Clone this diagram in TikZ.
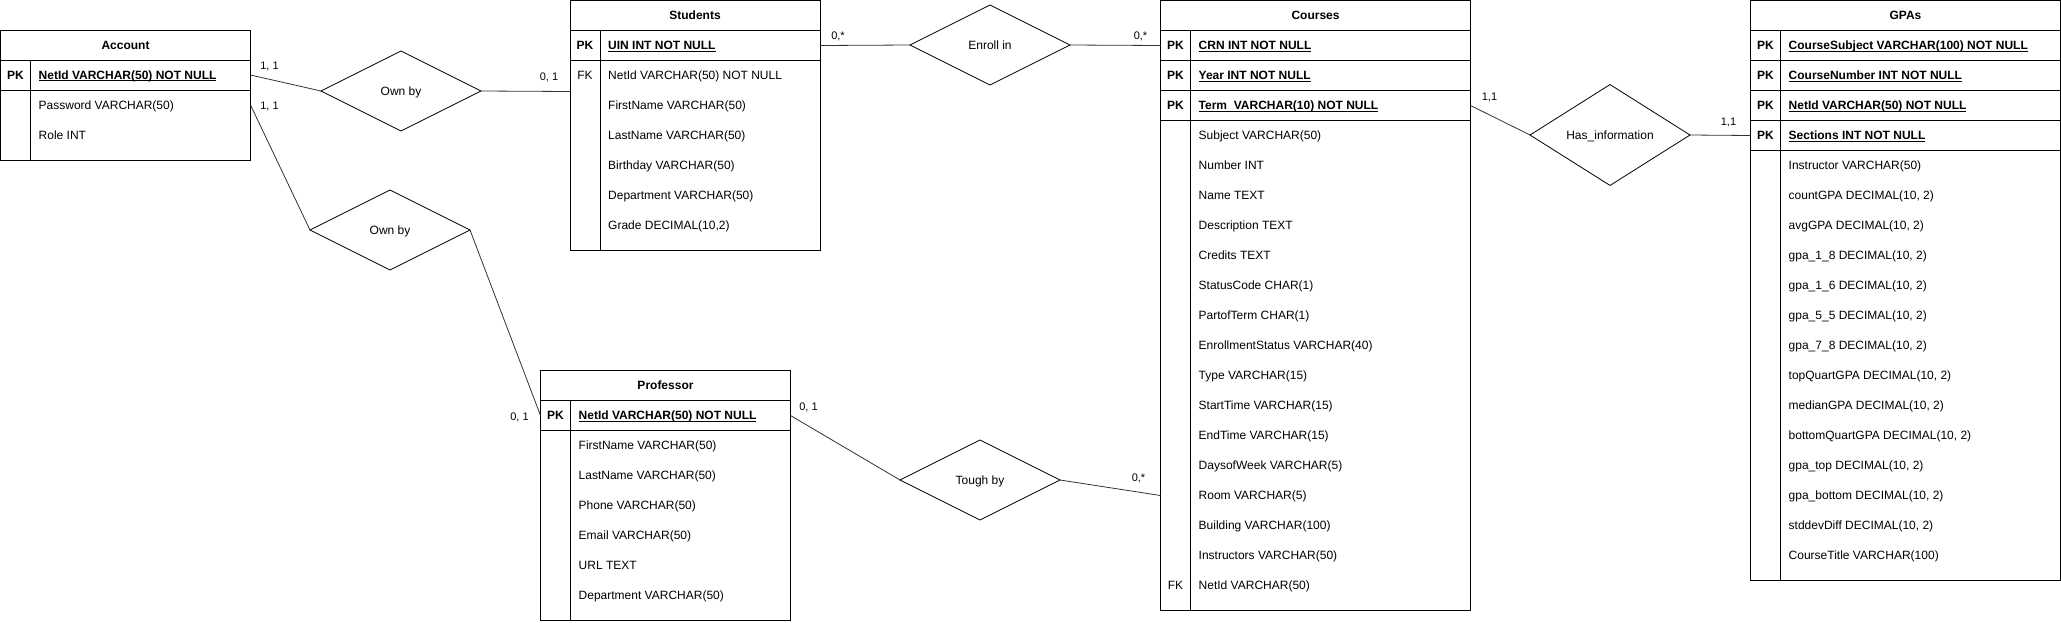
\documentclass[tikz,border=0pt]{standalone}
\usepackage{fontspec}
\setmainfont{Liberation Sans}
\usetikzlibrary{positioning, shapes.geometric}
\newsavebox{\pkbox}
\newcommand{\pkf}[1]{\textbf{\sbox\pkbox{#1}\rlap{\rule[-1.6pt]{\wd\pkbox}{0.7pt}}\usebox\pkbox}}

\begin{document}
\begin{tikzpicture}[x=1pt, y=-1pt, font=\fontsize{12pt}{14pt}\selectfont,
tblhead/.style={draw, line width=1pt, outer sep=0pt, anchor=north west, minimum height=30pt, inner sep=0pt, text height=11pt, text depth=2.5pt, font=\fontsize{12pt}{14pt}\selectfont\bfseries},
tblrow/.style={draw, line width=1pt, outer sep=0pt, minimum height=30pt, inner sep=0pt},
tblbody/.style={draw, line width=1pt, outer sep=0pt, inner sep=0pt},
tblline/.style={line width=1pt},
keytxt/.style={inner sep=0pt, text height=11pt, text depth=2.5pt, font=\fontsize{12pt}{14pt}\selectfont\bfseries},
fktxt/.style={inner sep=0pt, text height=11pt, text depth=2.5pt},
field/.style={anchor=west, inner sep=0pt, text height=11pt, text depth=2.5pt},
relship/.style={diamond, draw, line width=0.8pt, outer sep=0pt, minimum width=160pt, minimum height=80pt, inner sep=0pt, text height=11pt, text depth=2.5pt},
conn/.style={line width=0.8pt, draw=black!80},
card/.style={inner sep=0pt, text height=10pt, text depth=2.3pt, font=\fontsize{11pt}{13pt}\selectfont}
]
\useasboundingbox (0,0) rectangle (2061,622);

% Account
\node[tblhead, minimum width=250pt] (acc) at (0.5,30) {Account};
\node[tblrow, minimum width=250pt, below=0pt of acc] (acc-k1) {};
\node[tblbody, minimum width=250pt, minimum height=70pt, below=0pt of acc-k1] (acc-body) {};
\draw[tblline] ([xshift=30pt]acc-k1.north west) -- ([xshift=30pt]acc-body.south west);
\node[keytxt] at ([xshift=15pt]acc-k1.west) {PK};
\node[field] at ([xshift=38pt]acc-k1.west) {\pkf{NetId VARCHAR(50) NOT NULL}};
\foreach \t [count=\i] in {Password VARCHAR(50), Role INT}
  \node[field] at ([xshift=38pt, yshift={15pt-30pt*\i}]acc-body.north west) {\t};

% Students
\node[tblhead, minimum width=250pt] (stu) at (570,0.5) {Students};
\node[tblrow, minimum width=250pt, below=0pt of stu] (stu-k1) {};
\node[tblbody, minimum width=250pt, minimum height=190pt, below=0pt of stu-k1] (stu-body) {};
\draw[tblline] ([xshift=30pt]stu-k1.north west) -- ([xshift=30pt]stu-body.south west);
\node[keytxt] at ([xshift=15pt]stu-k1.west) {PK};
\node[field] at ([xshift=38pt]stu-k1.west) {\pkf{UIN INT NOT NULL}};
\node[fktxt] at ([xshift=15pt, yshift=-15pt]stu-body.north west) {FK};
\foreach \t [count=\i] in {NetId VARCHAR(50) NOT NULL, FirstName VARCHAR(50), LastName VARCHAR(50), Birthday VARCHAR(50), Department VARCHAR(50), {Grade DECIMAL(10,2)}}
  \node[field] at ([xshift=38pt, yshift={15pt-30pt*\i}]stu-body.north west) {\t};

% Courses
\node[tblhead, minimum width=310pt] (crs) at (1160.5,0.5) {Courses};
\node[tblrow, minimum width=310pt, below=0pt of crs] (crs-k1) {};
\node[tblrow, minimum width=310pt, below=0pt of crs-k1] (crs-k2) {};
\node[tblrow, minimum width=310pt, below=0pt of crs-k2] (crs-k3) {};
\node[tblbody, minimum width=310pt, minimum height=490pt, below=0pt of crs-k3] (crs-body) {};
\draw[tblline] ([xshift=30pt]crs-k1.north west) -- ([xshift=30pt]crs-body.south west);
\node[keytxt] at ([xshift=15pt]crs-k1.west) {PK};
\node[keytxt] at ([xshift=15pt]crs-k2.west) {PK};
\node[keytxt] at ([xshift=15pt]crs-k3.west) {PK};
\node[field] at ([xshift=38pt]crs-k1.west) {\pkf{CRN INT NOT NULL}};
\node[field] at ([xshift=38pt]crs-k2.west) {\pkf{Year INT NOT NULL}};
\node[field] at ([xshift=38pt]crs-k3.west) {\pkf{Term\ \ VARCHAR(10) NOT NULL}};
\node[fktxt] at ([xshift=15pt, yshift=-465pt]crs-body.north west) {FK};
\foreach \t [count=\i] in {Subject VARCHAR(50), Number INT, Name TEXT, Description TEXT, Credits TEXT, StatusCode CHAR(1), PartofTerm CHAR(1), EnrollmentStatus VARCHAR(40), Type VARCHAR(15), StartTime VARCHAR(15), EndTime VARCHAR(15), DaysofWeek VARCHAR(5), Room VARCHAR(5), Building VARCHAR(100), Instructors VARCHAR(50), NetId VARCHAR(50)}
  \node[field] at ([xshift=38pt, yshift={15pt-30pt*\i}]crs-body.north west) {\t};

% GPAs
\node[tblhead, minimum width=310pt] (gpa) at (1750.5,0.5) {GPAs};
\node[tblrow, minimum width=310pt, below=0pt of gpa] (gpa-k1) {};
\node[tblrow, minimum width=310pt, below=0pt of gpa-k1] (gpa-k2) {};
\node[tblrow, minimum width=310pt, below=0pt of gpa-k2] (gpa-k3) {};
\node[tblrow, minimum width=310pt, below=0pt of gpa-k3] (gpa-k4) {};
\node[tblbody, minimum width=310pt, minimum height=430pt, below=0pt of gpa-k4] (gpa-body) {};
\draw[tblline] ([xshift=30pt]gpa-k1.north west) -- ([xshift=30pt]gpa-body.south west);
\node[keytxt] at ([xshift=15pt]gpa-k1.west) {PK};
\node[keytxt] at ([xshift=15pt]gpa-k2.west) {PK};
\node[keytxt] at ([xshift=15pt]gpa-k3.west) {PK};
\node[keytxt] at ([xshift=15pt]gpa-k4.west) {PK};
\node[field] at ([xshift=38pt]gpa-k1.west) {\pkf{CourseSubject VARCHAR(100) NOT NULL}};
\node[field] at ([xshift=38pt]gpa-k2.west) {\pkf{CourseNumber INT NOT NULL}};
\node[field] at ([xshift=38pt]gpa-k3.west) {\pkf{NetId VARCHAR(50) NOT NULL}};
\node[field] at ([xshift=38pt]gpa-k4.west) {\pkf{Sections INT NOT NULL}};
\foreach \t [count=\i] in {Instructor VARCHAR(50), {countGPA DECIMAL(10, 2)}, {avgGPA DECIMAL(10, 2)}, {gpa\_1\_8 DECIMAL(10, 2)}, {gpa\_1\_6 DECIMAL(10, 2)}, {gpa\_5\_5 DECIMAL(10, 2)}, {gpa\_7\_8 DECIMAL(10, 2)}, {topQuartGPA DECIMAL(10, 2)}, {medianGPA DECIMAL(10, 2)}, {bottomQuartGPA DECIMAL(10, 2)}, {gpa\_top DECIMAL(10, 2)}, {gpa\_bottom DECIMAL(10, 2)}, {stddevDiff DECIMAL(10, 2)}, CourseTitle VARCHAR(100)}
  \node[field] at ([xshift=38pt, yshift={15pt-30pt*\i}]gpa-body.north west) {\t};

% Professor
\node[tblhead, minimum width=250pt] (prof) at (540.5,370.5) {Professor};
\node[tblrow, minimum width=250pt, below=0pt of prof] (prof-k1) {};
\node[tblbody, minimum width=250pt, minimum height=190pt, below=0pt of prof-k1] (prof-body) {};
\draw[tblline] ([xshift=30pt]prof-k1.north west) -- ([xshift=30pt]prof-body.south west);
\node[keytxt] at ([xshift=15pt]prof-k1.west) {PK};
\node[field] at ([xshift=38pt]prof-k1.west) {\pkf{NetId VARCHAR(50) NOT NULL}};
\foreach \t [count=\i] in {FirstName VARCHAR(50), LastName VARCHAR(50), Phone VARCHAR(50), Email VARCHAR(50), URL TEXT, Department VARCHAR(50)}
  \node[field] at ([xshift=38pt, yshift={15pt-30pt*\i}]prof-body.north west) {\t};

% relationships
\node[relship] (own1)    at (401,91)   {Own by};
\node[relship] (own2)    at (390,230)  {Own by};
\node[relship] (enroll)  at (990,45)   {Enroll in};
\node[relship] (hasinfo) at (1610,135) {Has\_information};
\node[relship] (tough)   at (980,480)  {Tough by};

\coordinate (acc-pw)   at ([yshift=-15pt]acc-body.north east);
\coordinate (stu-in)   at ([yshift=-31pt]stu-body.north west);
\coordinate (crs-room) at ([yshift=-375pt]crs-body.north west);

\draw[conn] (acc-k1.east) -- (own1.west) node[card, pos=0, xshift=19pt, yshift=9pt] {1, 1};
\draw[conn] (own1.east) -- (stu-in) node[card, pos=1, xshift=-21pt, yshift=15pt] {0, 1};
\draw[conn] (acc-pw) -- (own2.west) node[card, pos=0, xshift=19pt, yshift=-1pt] {1, 1};
\draw[conn] (own2.east) -- (prof-k1.west) node[card, pos=1, xshift=-21pt, yshift=-1pt] {0, 1};
\draw[conn] (stu-k1.east) -- (enroll.west) node[card, pos=0, xshift=18pt, yshift=10pt] {0,*};
\draw[conn] (enroll.east) -- (crs-k1.west) node[card, pos=1, xshift=-20pt, yshift=10pt] {0,*};
\draw[conn] (crs-k3.east) -- (hasinfo.west) node[card, pos=0, xshift=19pt, yshift=9pt] {1,1};
\draw[conn] (hasinfo.east) -- (gpa-k4.west) node[card, pos=1, xshift=-22pt, yshift=14pt] {1,1};
\draw[conn] (prof-k1.east) -- (tough.west) node[card, pos=0, xshift=18pt, yshift=9pt] {0, 1};
\draw[conn] (tough.east) -- (crs-room) node[card, pos=1, xshift=-22pt, yshift=18pt] {0,*};
\end{tikzpicture}
\end{document}
